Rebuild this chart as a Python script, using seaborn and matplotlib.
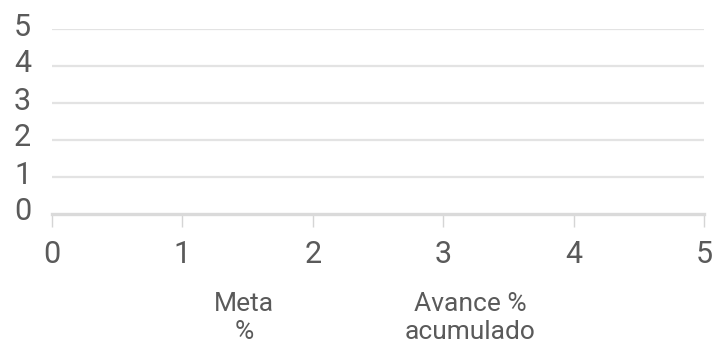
import matplotlib
matplotlib.use("Agg")
import matplotlib.pyplot as plt
import matplotlib.transforms as mtransforms
import seaborn as sns
import pandas as pd

# Data (chart is empty: no values plotted)
categories = []
meta_pct = []
avance_acum = []
series_names = ["Meta\n%", "Avance %\nacumulado"]
x_ticks = [0, 1, 2, 3, 4, 5]
y_ticks = [0, 1, 2, 3, 4, 5]

sns.set_theme(style="white")
plt.rcParams['font.family'] = ['Roboto', 'DejaVu Sans']

fig = plt.figure(figsize=(7.17, 3.46), dpi=100)
ax = fig.add_axes([52/717, 1-214/346, (704-52)/717, (214-29)/346])

df = pd.DataFrame({"x": pd.Series(categories, dtype=float),
                   "meta": pd.Series(meta_pct, dtype=float),
                   "avance": pd.Series(avance_acum, dtype=float)})
ax.plot(df["x"], df["meta"], color="#4472c4")
ax.plot(df["x"], df["avance"], color="#ed7d31")

ax.set_xlim(0, 5)
ax.set_ylim(0, 5)
ax.set_xticks(x_ticks)
ax.set_yticks(y_ticks)
ax.set_xticklabels([str(v) for v in x_ticks])
ax.set_yticklabels([str(v) for v in y_ticks])

grid_c = "#e3e3e3"
for v in y_ticks[1:]:
    ax.axhline(v, color=grid_c, lw=1.6, zorder=0)

for s in ["top", "right", "left"]:
    ax.spines[s].set_visible(False)
ax.spines["bottom"].set_color("#dadada")
ax.spines["bottom"].set_linewidth(2.4)

label_c = "#5a5a5a"
ax.tick_params(axis="x", length=9, width=1.0, color="#d5d5d5", labelsize=22,
               labelcolor=label_c, pad=10, bottom=True)
ax.tick_params(axis="y", length=0, labelsize=22, labelcolor=label_c, pad=15, left=False)

offset = mtransforms.ScaledTranslation(0, 5/100, fig.dpi_scale_trans)
for lab in ax.get_yticklabels():
    lab.set_transform(lab.get_transform() + offset)

ax.set_xlabel("")
ax.set_ylabel("")

fig.text(244/717, 1-318/346, series_names[0], ha="center", va="center",
         fontsize=19, color=label_c, multialignment="center", linespacing=1.25)
fig.text(470/717, 1-318/346, series_names[1], ha="center", va="center",
         fontsize=19, color=label_c, multialignment="center", linespacing=1.25)

fig.savefig("out.png", dpi=100, facecolor="white")
